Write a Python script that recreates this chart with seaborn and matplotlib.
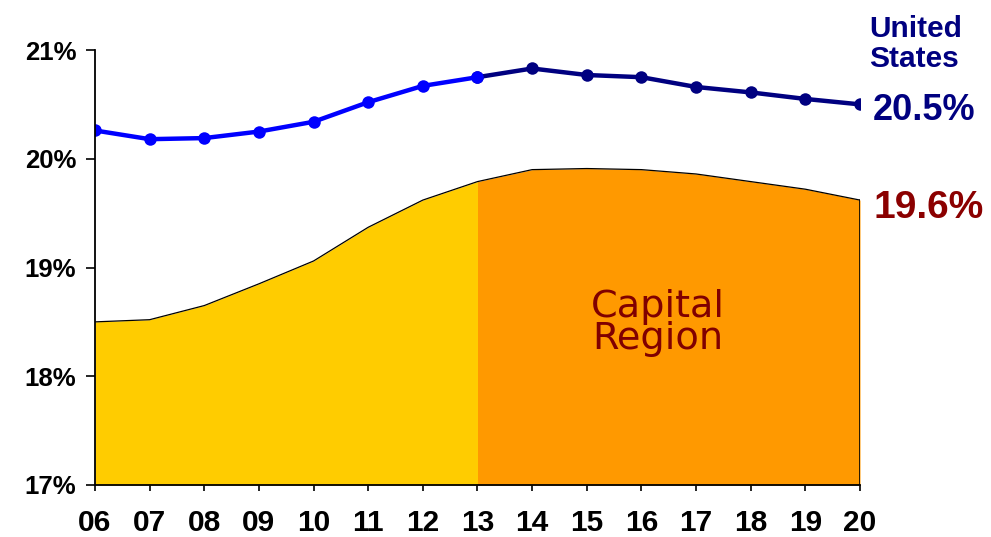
import matplotlib
matplotlib.use('Agg')
import matplotlib.pyplot as plt
import seaborn as sns
import pandas as pd

# Data
years = [6, 7, 8, 9, 10, 11, 12, 13, 14, 15, 16, 17, 18, 19, 20]
year_labels = ['06', '07', '08', '09', '10', '11', '12', '13', '14', '15', '16', '17', '18', '19', '20']
us_share = [20.26, 20.18, 20.19, 20.25, 20.34, 20.52, 20.67, 20.75, 20.83, 20.77, 20.75, 20.66, 20.61, 20.55, 20.50]
capital_share = [18.50, 18.52, 18.65, 18.85, 19.06, 19.37, 19.62, 19.79, 19.90, 19.91, 19.90, 19.86, 19.79, 19.72, 19.62]
y_ticks = [17, 18, 19, 20, 21]
y_labels = ['17%', '18%', '19%', '20%', '21%']
split_year = 13

df = pd.DataFrame({'year': years, 'us': us_share, 'capital': capital_share})
hist = df[df['year'] <= split_year]
proj = df[df['year'] >= split_year]

sns.set_style('white')
plt.rcParams['font.family'] = ['Liberation Sans', 'DejaVu Sans']

fig = plt.figure(figsize=(9.91, 5.37), dpi=100)
ax = fig.add_axes([95 / 991, 52 / 537, 765 / 991, 435 / 537])

# Capital Region area, history in yellow and projection in orange
ax.fill_between(hist['year'], 17, hist['capital'], color='#FFCC00', linewidth=0)
ax.fill_between(proj['year'], 17, proj['capital'], color='#FF9900', linewidth=0)
ax.plot(df['year'], df['capital'], color='black', lw=0.9)
ax.plot([20, 20], [17, capital_share[-1]], color='black', lw=1.2)

# United States line
sns.lineplot(data=proj, x='year', y='us', color='#000080', lw=3.2, marker='o',
             markersize=9, markeredgewidth=0, ax=ax)
sns.lineplot(data=hist, x='year', y='us', color='#0000FF', lw=3.2, marker='o',
             markersize=9, markeredgewidth=0, ax=ax)

ax.set_xlim(6, 20)
ax.set_ylim(17, 21)
ax.set_xlabel('')
ax.set_ylabel('')
ax.set_xticks(years)
ax.set_xticklabels(year_labels, fontsize=21.5, fontweight='bold', color='black')
ax.set_yticks(y_ticks)
ax.set_yticklabels(y_labels, fontsize=18.5, fontweight='bold', color='black')
ax.tick_params(axis='x', direction='out', length=4, width=1.2, pad=13, bottom=True, color='black')
ax.tick_params(axis='y', direction='out', length=6.5, width=1.2, pad=7, left=True, color='black')
for side in ['top', 'right']:
    ax.spines[side].set_visible(False)
for side in ['left', 'bottom']:
    ax.spines[side].set_linewidth(1.3)
    ax.spines[side].set_color('black')

# Annotations
ax.text(16.30, 18.49, 'Capital\nRegion', color='#800000', fontsize=27.5, ha='center', va='center',
        linespacing=0.85, family=['DejaVu Sans'])
fig.text(869 / 991, 1 - 44 / 537, 'United\nStates', color='#000080', fontsize=21.5, fontweight='bold',
         ha='left', va='center', linespacing=1.05)
fig.text(873 / 991, 1 - 110 / 537, '20.5%', color='#000080', fontsize=26, fontweight='bold',
         ha='left', va='center')
fig.text(873 / 991, 1 - 208 / 537, '19.6%', color='#8B0000', fontsize=28, fontweight='bold',
         ha='left', va='center')

fig.savefig('out.png', dpi=100)
